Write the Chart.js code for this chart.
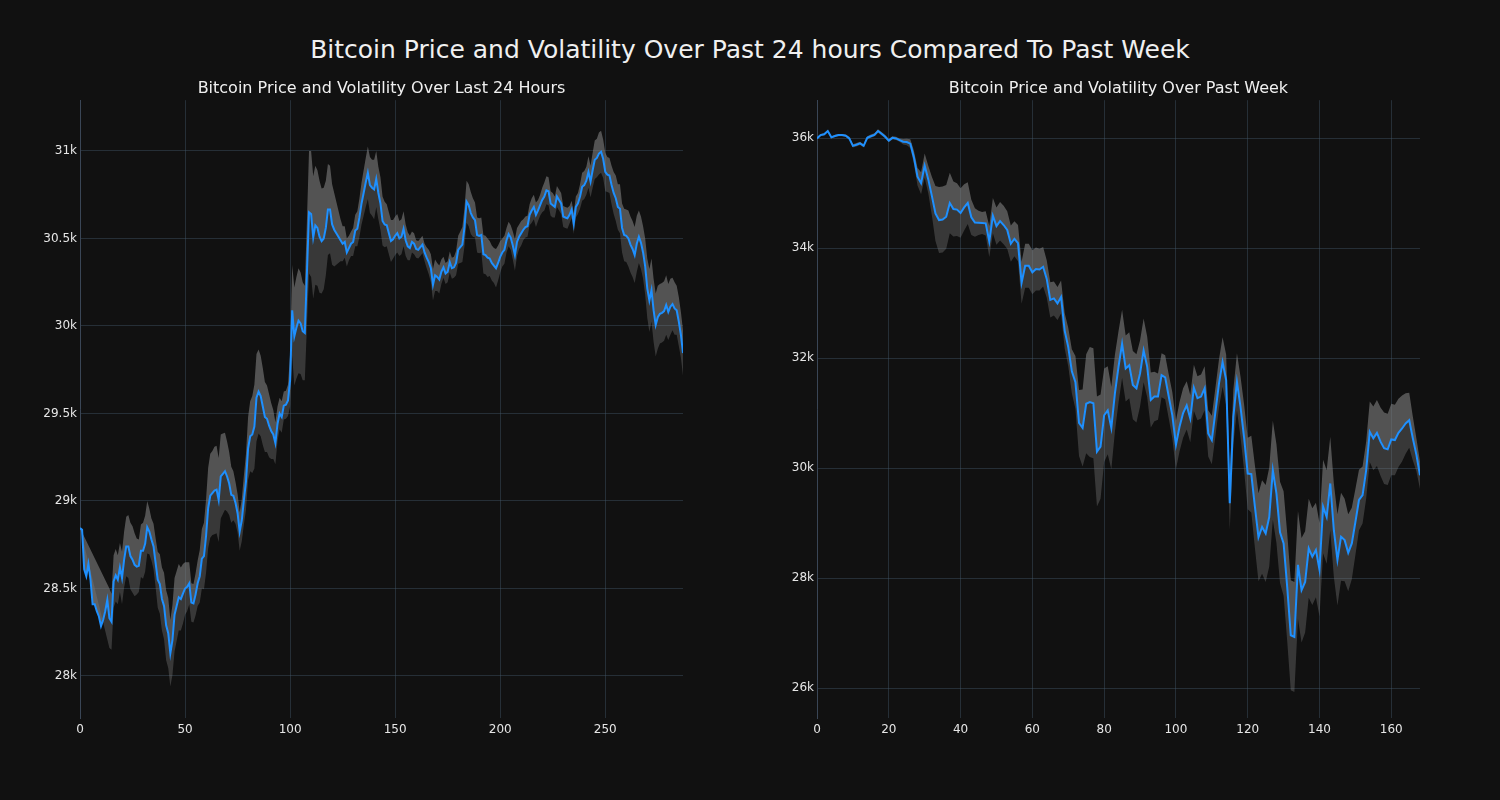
<!DOCTYPE html>
<html>
<head>
<meta charset="utf-8">
<script src="https://cdn.jsdelivr.net/npm/chart.js@4.4.1/dist/chart.umd.min.js"></script>
<style>
  html, body { margin: 0; padding: 0; background: #111111; }
  body { width: 1500px; height: 800px; position: relative; overflow: hidden; font-family: "DejaVu Sans", sans-serif; }
  #mainTitle { position: absolute; left: 0; width: 1500px; top: 35px; text-align: center; color: #f0f0f0; font-size: 25px; line-height: 30px; }
  canvas { position: absolute; }
  #dayChart { left: 0px; top: 70px; }
  #weekChart { left: 737px; top: 70px; }
</style>
</head>
<body>
<div id="mainTitle">Bitcoin Price and Volatility Over Past 24 hours Compared To Past Week</div>
<canvas id="dayChart" width="700" height="690"></canvas>
<canvas id="weekChart" width="700" height="690"></canvas>
<script>
/* 24h price, 5-min steps (index 0..287) */
const dayPrice = [
  28845,28835,28610,28570,28640,28550,28410,28410,28370,28340,
  28285,28320,28370,28435,28330,28310,28540,28575,28550,28620,
  28560,28665,28740,28740,28685,28665,28635,28625,28630,28715,
  28715,28755,28850,28825,28780,28740,28645,28550,28525,28440,
  28400,28290,28245,28130,28205,28350,28400,28450,28440,28470,
  28500,28510,28530,28420,28415,28465,28530,28570,28670,28685,
  28800,28960,29030,29045,29060,29065,29005,29140,29155,29170,
  29140,29100,29035,29030,28990,28930,28825,28890,29005,29110,
  29300,29370,29380,29425,29590,29625,29600,29540,29480,29470,
  29430,29400,29380,29330,29440,29500,29480,29545,29550,29575,
  29690,30090,29940,29990,30030,30015,29970,29960,30300,30650,
  30640,30505,30575,30560,30510,30485,30500,30560,30665,30665,
  30580,30550,30530,30510,30490,30470,30480,30420,30445,30470,
  30480,30545,30555,30620,30700,30760,30820,30875,30805,30790,
  30780,30840,30760,30700,30600,30580,30575,30530,30485,30495,
  30515,30530,30500,30510,30555,30490,30455,30445,30480,30470,
  30440,30435,30450,30465,30420,30390,30365,30330,30235,30290,
  30280,30265,30310,30335,30300,30310,30365,30330,30335,30360,
  30435,30450,30465,30565,30710,30690,30645,30620,30605,30520,
  30515,30520,30410,30405,30390,30385,30360,30345,30330,30360,
  30395,30420,30435,30490,30525,30505,30460,30405,30480,30510,
  30530,30550,30565,30570,30635,30660,30680,30635,30660,30690,
  30720,30740,30775,30770,30700,30690,30680,30740,30720,30700,
  30625,30620,30615,30635,30665,30585,30680,30700,30740,30795,
  30805,30830,30880,30825,30890,30950,30960,30985,30995,30955,
  30880,30865,30860,30805,30760,30730,30680,30670,30560,30520,
  30515,30500,30465,30440,30405,30470,30510,30475,30420,30340,
  30215,30145,30205,30090,30005,30050,30070,30075,30085,30120,
  30080,30110,30125,30100,30090,30025,29950,29845
];
/* 24h volatility half-width (null = not yet defined) */
const dayVol = [
  0,null,null,null,null,null,null,null,null,null,
  null,null,null,null,170,160,150,150,140,140,
  150,160,170,180,190,190,180,160,150,150,
  160,160,150,130,120,130,140,160,170,180,
  190,200,200,190,200,210,200,190,180,170,
  150,140,120,110,110,120,130,150,170,190,
  210,230,240,240,250,250,240,240,230,220,
  200,180,160,140,120,110,110,120,140,160,
  180,200,220,240,250,240,230,220,200,190,
  180,160,140,120,100,90,90,80,80,90,
  150,260,280,290,300,290,280,270,300,350,
  360,350,340,330,320,300,290,270,260,250,
  230,210,180,150,120,100,90,80,70,70,
  80,90,100,110,120,130,140,150,160,160,
  170,160,150,150,140,130,120,120,120,110,
  110,110,100,100,100,90,80,70,60,60,
  50,50,50,50,50,60,70,80,90,90,
  80,80,70,60,60,60,60,60,60,70,
  80,90,100,110,120,120,120,110,100,100,
  100,100,110,110,110,100,100,100,110,100,
  90,80,80,70,70,70,80,90,80,70,
  70,60,60,60,60,70,70,70,60,60,
  70,80,80,80,70,70,60,60,60,60,
  60,60,60,50,50,60,60,60,70,80,
  80,80,90,90,100,110,110,120,120,110,
  110,100,100,110,120,130,130,140,140,150,
  150,160,160,160,160,160,150,150,150,160,
  170,180,180,180,180,180,170,170,170,170,
  160,160,150,150,140,140,130,130
];
const dayXTicks = [0, 50, 100, 150, 200, 250];
const dayYTicks = [28000, 28500, 29000, 29500, 30000, 30500, 31000];

/* past week, hourly (index 0..168) */
const weekPrice = [
  35995,36055,36070,36130,36015,36040,36055,36055,36045,35995,
  35860,35880,35905,35860,36005,36035,36060,36130,36080,36025,
  35955,36005,35995,35965,35935,35930,35900,35650,35300,35180,
  35500,35250,34950,34630,34510,34520,34570,34820,34710,34700,
  34640,34740,34820,34560,34465,34460,34455,34450,34120,34590,
  34400,34490,34420,34330,34080,34170,34090,33370,33680,33680,
  33560,33620,33610,33660,33440,33060,33085,32995,33110,32500,
  32200,31760,31560,30820,30730,31170,31200,31180,30300,30390,
  30960,31050,30730,31360,31840,32260,31810,31870,31510,31450,
  31720,32140,31840,31240,31300,31300,31690,31650,31300,30960,
  30420,30750,31000,31140,30900,31460,31270,31300,31450,30630,
  30510,31020,31540,31930,31600,29360,30930,31570,31110,30550,
  29900,29890,29300,28740,28930,28810,29110,29960,29540,28830,
  28630,27840,26960,26930,28240,27780,27930,28540,28390,28510,
  28150,29300,29110,29720,28870,28330,28750,28690,28460,28630,
  29020,29420,29510,29960,30660,30540,30640,30480,30360,30340,
  30520,30510,30640,30720,30810,30870,30540,30240,29870
];
const weekVol = [
  20,20,20,20,20,20,20,20,20,30,
  30,30,30,30,30,30,30,30,30,30,
  30,30,30,30,50,60,80,120,160,200,
  220,250,350,500,600,600,580,550,500,480,
  450,420,380,320,260,220,200,220,280,320,
  340,350,350,340,330,320,330,380,400,400,
  400,390,380,360,340,320,310,300,300,320,
  350,400,480,600,700,900,1000,1000,1000,950,
  850,800,750,700,650,620,600,600,620,620,
  600,580,550,500,450,420,400,400,400,420,
  440,450,450,440,430,420,400,400,400,420,
  440,440,440,450,460,480,500,520,550,600,
  650,700,750,800,850,880,900,900,900,920,
  950,980,1000,1000,980,950,920,900,880,860,
  850,850,850,850,850,830,800,750,700,650,
  600,550,520,520,550,580,600,620,650,650,
  650,640,620,600,550,500,400,300,250
];
const weekXTicks = [0, 20, 40, 60, 80, 100, 120, 140, 160];
const weekYTicks = [26000, 28000, 30000, 32000, 34000, 36000];

const gridColor = 'rgba(70,90,110,0.42)';
const tickColor = '#e6e6e6';

Chart.defaults.font.family = '"DejaVu Sans", sans-serif';
Chart.defaults.color = tickColor;

function pts(arr) { return arr.map((v, i) => ({ x: i, y: v })); }

function makeChart(id, title, price, vol, xMax, xTicks, yMin, yMax, yTicks) {
  const upper = price.map((p, i) => vol[i] === null ? null : p + vol[i]);
  const lower = price.map((p, i) => vol[i] === null ? null : p - vol[i]);
  return new Chart(document.getElementById(id), {
    type: 'line',
    data: { datasets: [
      { data: pts(price), borderColor: '#1e90ff', borderWidth: 2, pointRadius: 0, fill: false, tension: 0 },
      { data: pts(upper), borderWidth: 0, pointRadius: 0, fill: 0, backgroundColor: 'rgba(128,128,128,0.6)', spanGaps: true },
      { data: pts(lower), borderWidth: 0, pointRadius: 0, fill: 0, backgroundColor: 'rgba(128,128,128,0.36)', spanGaps: true }
    ]},
    options: {
      responsive: false, animation: false, devicePixelRatio: 1,
      layout: { padding: { left: 0, right: 17, top: 0, bottom: 0 } },
      plugins: {
        legend: { display: false }, tooltip: { enabled: false },
        title: { display: true, text: title, fullSize: false, color: '#f0f0f0',
                 font: { size: 16, weight: 'normal' }, padding: { top: 9, bottom: 2 } }
      },
      scales: {
        x: { type: 'linear', min: 0, max: xMax,
             afterBuildTicks: s => { s.ticks = xTicks.map(v => ({ value: v })); },
             afterFit: s => { s.height = 42; },
             ticks: { color: tickColor, font: { size: 12 }, padding: 5, maxRotation: 0, autoSkip: false },
             grid: { color: gridColor, drawTicks: false }, border: { display: false } },
        y: { min: yMin, max: yMax,
             afterBuildTicks: s => { s.ticks = yTicks.map(v => ({ value: v })); },
             afterFit: s => { s.width = 80; },
             ticks: { color: tickColor, font: { size: 12 }, padding: 3, autoSkip: false, callback: v => (v / 1000) + 'k' },
             grid: { color: gridColor, drawTicks: false }, border: { display: true, color: '#3a4656' } }
      }
    }
  });
}

makeChart('dayChart', 'Bitcoin Price and Volatility Over Last 24 Hours', dayPrice, dayVol, 287, dayXTicks, 27760, 31290, dayYTicks);
makeChart('weekChart', 'Bitcoin Price and Volatility Over Past Week', weekPrice, weekVol, 168, weekXTicks, 25455, 36690, weekYTicks);
</script>
</body>
</html>
